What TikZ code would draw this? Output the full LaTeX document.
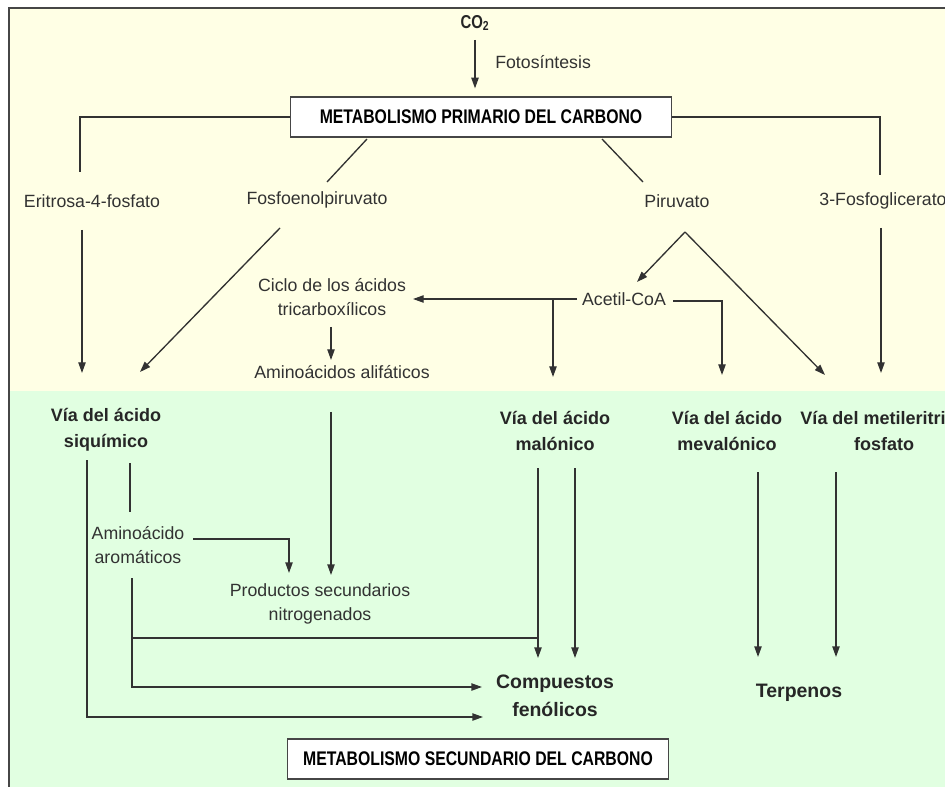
\documentclass[tikz,border=0pt]{standalone}
\usepackage{fontspec}
\setmainfont{Liberation Sans}
\newfontfamily\condfont[FakeStretch=0.8]{Liberation Sans}
\usetikzlibrary{arrows.meta, calc}

\definecolor{topbg}{RGB}{255,255,229}
\definecolor{botbg}{RGB}{225,255,225}
\definecolor{ink}{RGB}{50,50,50}
\definecolor{framec}{RGB}{70,70,70}

\begin{document}
\begin{tikzpicture}[
    x=0.75pt, y=-0.75pt,
    lbl/.style={inner sep=0pt, text=ink, align=center,
                font=\fontsize{13.3}{18}\selectfont},
    via/.style={inner sep=0pt, text=black!85, align=center,
                font=\bfseries\fontsize{13.5}{19.5}\selectfont},
    prod/.style={inner sep=0pt, text=black!85, align=center,
                 font=\bfseries\fontsize{14.6}{21}\selectfont},
    box/.style={draw=framec, fill=white, line width=0.9pt,
                minimum width=285.75pt, minimum height=30pt,
                font=\condfont\bfseries\fontsize{14.8}{18}\selectfont},
    link/.style={draw=ink, line width=1pt},
    >={Triangle[length=8pt, width=5.5pt]}
  ]
  \useasboundingbox (0,0) rectangle (945,787);

  % two background bands and the frame
  \fill[topbg] (9,8) rectangle (950,391);
  \fill[botbg] (9,391) rectangle (950,790);
  \draw[framec, line width=1.5pt] (950,8) -- (9,8) -- (9,790);

  % primary metabolism
  \node[lbl, text=black!85, font=\condfont\bfseries\fontsize{14}{16}\selectfont]
    (co2) at (475,23) {CO\textsubscript{2}};
  \node[lbl, anchor=west] (foto) at (495,62) {Fotosíntesis};
  \node[box] (prim) at (481,117) {METABOLISMO PRIMARIO DEL CARBONO};

  \node[lbl] (eritrosa) at (92,201) {Eritrosa-4-fosfato};
  \node[lbl] (fosfo) at (317,200) {Fosfoenolpiruvato};
  \node[lbl] (piruvato) at (677,201) {Piruvato};
  \node[lbl] (fosfogli) at (883,201) {3-Fosfoglicerato};

  \node[lbl] (ciclo) at (332,297) {Ciclo de los ácidos\\tricarboxílicos};
  \node[lbl] (acetil) at (624,299) {Acetil-CoA};
  \node[lbl] (alifat) at (342,372) {Aminoácidos alifáticos};

  % secondary pathways
  \node[via] (siquim) at (106,430) {Vía del ácido\\siquímico};
  \node[via] (malon) at (555,431) {Vía del ácido\\malónico};
  \node[via] (meval) at (727,431) {Vía del ácido\\mevalónico};
  \node[via] (metil) at (884,431) {Vía del metileritritol\\fosfato};

  \node[lbl] (aroma) at (138,545) {Aminoácido\\aromáticos};
  \node[lbl] (prodsec) at (320,604) {Productos secundarios\\nitrogenados};
  \node[prod] (fenol) at (555,696) {Compuestos\\fenólicos};
  \node[prod] (terp) at (799,693) {Terpenos};
  \node[box] (secund) at (478,759) {METABOLISMO SECUNDARIO DEL CARBONO};

  % upper part
  \draw[link, ->] ($(co2)+(0,17)$) -- ($(prim.north)+(-6,-8)$);
  \draw[link] (prim.west) -| ($(eritrosa)+(-12,-29)$);
  \draw[link] (prim.east) -| ($(fosfogli)+(-3,-26)$);
  \draw[link] ($(prim)+(-114,22)$) -- ($(fosfo)+(10,-18)$);
  \draw[link] ($(prim)+(121,22)$) -- ($(piruvato)+(-34,-19)$);

  \draw[link, ->] ($(eritrosa)+(-10,29)$) -- ($(siquim)+(-24,-57)$);
  \draw[link, ->] ($(fosfo)+(-37,28)$) -- ($(siquim)+(34,-58)$);
  \coordinate (apex) at ($(piruvato)+(8,31)$);
  \draw[link, ->] (apex) -- ($(acetil)+(13,-17)$);
  \draw[link, ->] (apex) -- ($(metil)+(-59,-56)$);
  \draw[link, ->] ($(fosfogli)+(-2,27)$) -- ($(metil)+(-3,-58)$);

  \draw[link, ->] ($(acetil)+(-47,0)$) -- ($(ciclo)+(81,2)$);
  \draw[link, ->] ($(acetil)+(-71,0)$) -- ($(malon)+(-2,-54)$);
  \draw[link, ->] ($(acetil)+(49,2)$) -| ($(meval)+(-5,-56)$);
  \draw[link, ->] ($(ciclo)+(-1,30)$) -- ($(alifat)+(-11,-12)$);
  \draw[link, ->] ($(alifat)+(-11,40)$) -- ($(prodsec)+(11,-29)$);

  % lower part
  \draw[link, ->] ($(siquim)+(-19,30)$) |- ($(fenol)+(-72,21)$);
  \draw[link] ($(siquim)+(24,33)$) -- ($(aroma)+(-8,-33)$);
  \draw[link, ->] ($(aroma)+(55,-6)$) -| ($(prodsec)+(-31,-31)$);
  \draw[link, ->] ($(aroma)+(-6,33)$) |- ($(fenol)+(-73,-9)$);
  \draw[link] ($(aroma)+(-6,93)$) -- ($(malon)+(-17,207)$);
  \draw[link, ->] ($(malon)+(-17,37)$) -- ($(fenol)+(-17,-38)$);
  \draw[link, ->] ($(malon)+(20,37)$) -- ($(fenol)+(20,-38)$);
  \draw[link, ->] ($(meval)+(31,41)$) -- ($(terp)+(-41,-36)$);
  \draw[link, ->] ($(metil)+(-48,41)$) -- ($(terp)+(37,-36)$);
\end{tikzpicture}
\end{document}
